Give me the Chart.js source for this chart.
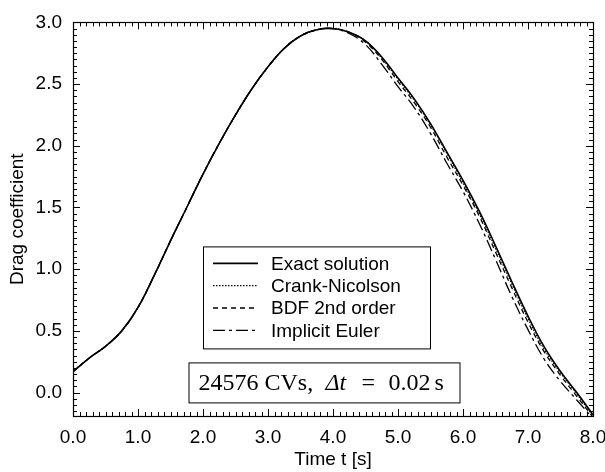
<!DOCTYPE html>
<html>
<head>
<meta charset="utf-8">
<script src="https://cdn.jsdelivr.net/npm/chart.js@4.4.1/dist/chart.umd.min.js"></script>
<style>
body { margin: 0; background: #fff; }
#wrap { width: 605px; height: 472px; }
</style>
</head>
<body>
<div id="wrap"><canvas id="myDrag" width="605" height="472"></canvas></div>
<script>
// time [s]
const timeList = [0, 0.25, 0.5, 0.75, 1, 1.25, 1.5, 1.75, 2, 2.25, 2.5, 2.75, 3, 3.25, 3.5, 3.75,
                  4, 4.25, 4.5, 4.75, 5, 5.25, 5.5, 5.75, 6, 6.25, 6.5, 6.75, 7, 7.25, 7.5, 7.75, 8];
const exactList = [0.17, 0.28, 0.375, 0.50, 0.69, 0.95, 1.23, 1.50, 1.77, 2.02, 2.25, 2.46, 2.64, 2.79, 2.89, 2.94,
                   2.95, 2.92, 2.85, 2.72, 2.55, 2.38, 2.18, 1.95, 1.72, 1.47, 1.19, 0.90, 0.62, 0.37, 0.17, 0.00, -0.18];
const crankList = [0.17, 0.28, 0.375, 0.50, 0.69, 0.95, 1.23, 1.50, 1.77, 2.02, 2.25, 2.46, 2.64, 2.79, 2.89, 2.94,
                   2.95, 2.92, 2.85, 2.71, 2.54, 2.37, 2.17, 1.94, 1.70, 1.45, 1.17, 0.88, 0.60, 0.35, 0.16, -0.01, -0.19];
const bdfList   = [0.17, 0.28, 0.375, 0.50, 0.69, 0.95, 1.23, 1.50, 1.77, 2.02, 2.25, 2.46, 2.64, 2.79, 2.89, 2.94,
                   2.95, 2.92, 2.84, 2.70, 2.52, 2.35, 2.15, 1.91, 1.68, 1.43, 1.14, 0.85, 0.57, 0.33, 0.14, -0.03, -0.20];
const eulerList = [0.17, 0.28, 0.375, 0.50, 0.69, 0.95, 1.23, 1.50, 1.77, 2.02, 2.25, 2.46, 2.64, 2.79, 2.89, 2.94,
                   2.95, 2.91, 2.82, 2.66, 2.48, 2.31, 2.10, 1.86, 1.63, 1.37, 1.08, 0.78, 0.51, 0.27, 0.09, -0.06, -0.21];

const seriesNames = ['Exact solution', 'Crank-Nicolson', 'BDF 2nd order', 'Implicit Euler'];
const xTickList = [0, 1, 2, 3, 4, 5, 6, 7, 8];
const yTickList = [0, 0.5, 1, 1.5, 2, 2.5, 3];

const sansFont = "'Liberation Sans', Arial, Helvetica, sans-serif";
const serifFont = "'Liberation Serif', 'Times New Roman', serif";

window.onload = function(){
    dragChart();
};

function toPoints(list){
    const pts = [];
    for (let i = 0; i < timeList.length; i++) {
        pts.push({x: timeList[i], y: list[i]});
    }
    return pts;
}

// frame with inward ticks on all four sides
const innerTicks = {
    id: 'innerTicks',
    afterDatasetsDraw(chart){
        const ctx = chart.ctx;
        const a = chart.chartArea;
        const xs = chart.scales.x;
        const ys = chart.scales.y;
        ctx.save();
        ctx.strokeStyle = '#000';
        ctx.lineWidth = 1;
        ctx.beginPath();
        for (let i = 0; i <= 80; i++) {
            const px = Math.round(xs.getPixelForValue(i / 10)) + 0.5;
            const len = (i % 10 == 0) ? 7 : 4;
            ctx.moveTo(px, a.bottom); ctx.lineTo(px, a.bottom - len);
            ctx.moveTo(px, a.top); ctx.lineTo(px, a.top + len);
        }
        for (let i = -3; i <= 60; i++) {
            const py = Math.round(ys.getPixelForValue(i * 0.05)) + 0.5;
            const len = (i % 10 == 0) ? 7 : 4;
            ctx.moveTo(a.left, py); ctx.lineTo(a.left + len, py);
            ctx.moveTo(a.right, py); ctx.lineTo(a.right - len, py);
        }
        ctx.stroke();
        ctx.lineWidth = 1.2;
        ctx.strokeRect(Math.round(a.left) + 0.5, Math.round(a.top) + 0.5,
                       Math.round(a.right - a.left), Math.round(a.bottom - a.top));
        ctx.restore();
    }
};

// legend box and the text box inside the plot
const insideBoxes = {
    id: 'insideBoxes',
    afterDraw(chart){
        const ctx = chart.ctx;
        const a = chart.chartArea;
        ctx.save();

        const lx = a.left + 130, ly = a.top + 224, lw = 227, lh = 102;
        ctx.fillStyle = '#fff';
        ctx.fillRect(lx, ly, lw, lh);
        ctx.strokeStyle = '#000';
        ctx.lineWidth = 1;
        ctx.strokeRect(lx + 0.5, ly + 0.5, lw, lh);
        ctx.font = '19px ' + sansFont;
        ctx.textBaseline = 'middle';
        ctx.fillStyle = '#000';
        chart.data.datasets.forEach((ds, i) => {
            const ry = ly + 17 + i * 22.3;
            ctx.beginPath();
            ctx.setLineDash(ds.borderDash || []);
            ctx.lineWidth = ds.borderWidth;
            ctx.moveTo(lx + 10, ry);
            ctx.lineTo(lx + 55, ry);
            ctx.stroke();
            ctx.setLineDash([]);
            ctx.fillText(ds.label, lx + 68, ry + 1);
        });

        const bx = a.left + 115.5, by = a.top + 340, bw = 271, bh = 40;
        ctx.fillStyle = '#fff';
        ctx.fillRect(bx, by, bw, bh);
        ctx.lineWidth = 1;
        ctx.strokeRect(bx + 0.5, by + 0.5, bw, bh);
        ctx.fillStyle = '#000';
        ctx.textBaseline = 'alphabetic';
        const base = by + 28;
        ctx.font = '24px ' + serifFont;
        ctx.fillText('24576 CVs,', bx + 10, base);
        ctx.font = 'italic 24px ' + serifFont;
        ctx.fillText('Δt', bx + 137, base);
        ctx.font = '24px ' + serifFont;
        ctx.fillText('=', bx + 173, base);
        ctx.fillText('0.02', bx + 200, base);
        ctx.fillText('s', bx + 246, base);
        ctx.restore();
    }
};

function dragChart(){
    const data = {
        datasets: [{
            label: seriesNames[0],
            data: toPoints(exactList),
            borderColor: '#000',
            borderWidth: 1.6,
            borderDash: [],
        }, {
            label: seriesNames[1],
            data: toPoints(crankList),
            borderColor: '#000',
            borderWidth: 1.2,
            borderDash: [1.5, 1.5],
        }, {
            label: seriesNames[2],
            data: toPoints(bdfList),
            borderColor: '#000',
            borderWidth: 1.3,
            borderDash: [5, 4],
        }, {
            label: seriesNames[3],
            data: toPoints(eulerList),
            borderColor: '#000',
            borderWidth: 1.3,
            borderDash: [12, 4, 3, 4],
        }]
    };

    const config = {
        type: 'line',
        data: data,
        options: {
            responsive: false,
            animation: false,
            layout: { padding: { top: 15, right: 12, left: 0, bottom: 0 } },
            elements: {
                point: { radius: 0 },
                line: { tension: 0.4, fill: false }
            },
            plugins: {
                legend: { display: false },
                tooltip: { enabled: false }
            },
            scales: {
                x: {
                    type: 'linear',
                    min: 0,
                    max: 8,
                    afterBuildTicks: s => { s.ticks = xTickList.map(v => ({ value: v })); },
                    afterFit: s => { s.height = 56; s.paddingLeft = 0; s.paddingRight = 0; },
                    grid: { display: false, drawTicks: false },
                    border: { display: false },
                    ticks: {
                        callback: v => v.toFixed(1),
                        color: '#000',
                        font: { size: 19, family: sansFont },
                        padding: 10,
                        maxRotation: 0,
                        autoSkip: false
                    },
                    title: {
                        display: true,
                        text: 'Time t [s]',
                        color: '#000',
                        font: { size: 19, family: sansFont },
                        padding: { top: 0, bottom: 1 }
                    }
                },
                y: {
                    type: 'linear',
                    min: -0.19,
                    max: 3.0,
                    afterBuildTicks: s => { s.ticks = yTickList.map(v => ({ value: v })); },
                    afterFit: s => { s.width = 73; },
                    grid: { display: false, drawTicks: false },
                    border: { display: false },
                    ticks: {
                        callback: v => v.toFixed(1),
                        color: '#000',
                        font: { size: 19, family: sansFont },
                        padding: 11
                    },
                    title: {
                        display: true,
                        text: 'Drag coefficient',
                        color: '#000',
                        font: { size: 19, family: sansFont },
                        padding: { top: 6, bottom: 0 }
                    }
                }
            }
        },
        plugins: [innerTicks, insideBoxes]
    };

    new Chart(
        document.getElementById('myDrag'),
        config
    );
}
</script>
</body>
</html>
